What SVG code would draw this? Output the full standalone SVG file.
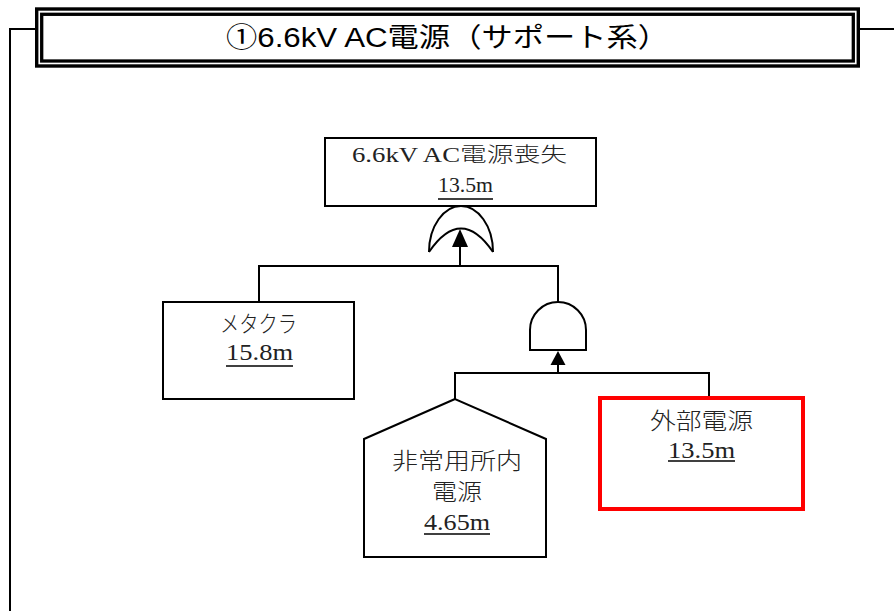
<svg xmlns="http://www.w3.org/2000/svg" width="894" height="611" viewBox="0 0 894 611">
<style>
.ln{fill:none;stroke:#000;stroke-width:2}
.box{fill:#fff;stroke:#000;stroke-width:2}
.t{font-family:"Liberation Serif","Noto Sans CJK JP",serif;font-size:23px;font-weight:300;fill:#222;text-anchor:middle}
.ts{font-size:20px}
.ul{stroke:#000;stroke-width:1.5}
.title{font-family:"Liberation Sans","Noto Sans CJK JP",sans-serif;font-size:27px;fill:#000;text-anchor:middle}
</style>
<rect width="894" height="611" fill="#fff"/>
<g id="frame">
<path class="ln" d="M36,29 H10 V611"/>
<path class="ln" d="M858,29 H894"/>
<rect x="36.7" y="9" width="821.6" height="57" fill="#fff" stroke="#000" stroke-width="3.4"/>
<rect x="41.7" y="14.3" width="811.6" height="46.7" fill="none" stroke="#000" stroke-width="3.3"/>
<text class="title" x="447.5" y="47" textLength="443" lengthAdjust="spacingAndGlyphs">①6.6kV AC電源（サポート系）</text>
</g>
<g id="connectors">
<path class="ln" d="M259,302 V266 H558 V302"/>
<path class="ln" d="M460,266 V246"/>
<polygon points="460,229 452,247 468,247" fill="#000"/>
<path class="ln" d="M455,399 V373 H709 V396"/>
<path class="ln" d="M558,373 V364"/>
<polygon points="558,351 550.5,365 565.5,365" fill="#000"/>
</g>
<g id="top-event">
<rect class="box" x="325" y="138" width="271" height="68"/>
<text class="t ts" x="459.5" y="162" textLength="215" lengthAdjust="spacingAndGlyphs">6.6kV AC電源喪失</text>
<text class="t ts" x="465.5" y="192" textLength="55" lengthAdjust="spacingAndGlyphs">13.5m</text>
<line class="ul" x1="438" y1="199" x2="493" y2="199"/>
</g>
<g id="or-gate">
<path class="ln" d="M429,252 C429,226 444,206 461,206 C478,206 493,226 493,252"/>
<path class="ln" d="M429,252 Q461,205 493,252"/>
</g>
<g id="and-gate">
<path class="ln" d="M530,350 V330 A28,28 0 0 1 586,330 V350 Z"/>
</g>
<g id="metacla">
<rect class="box" x="163" y="302" width="191" height="97"/>
<text class="t" x="258.5" y="332" textLength="77" lengthAdjust="spacingAndGlyphs">メタクラ</text>
<text class="t" x="259.5" y="360" textLength="67" lengthAdjust="spacingAndGlyphs">15.8m</text>
<line class="ul" x1="226" y1="366" x2="293" y2="366"/>
</g>
<g id="emergency-power">
<polygon class="box" points="455,399 364,439 364,557 546,557 546,439"/>
<text class="t" x="457" y="469" textLength="130" lengthAdjust="spacingAndGlyphs">非常用所内</text>
<text class="t" x="457" y="500" textLength="50" lengthAdjust="spacingAndGlyphs">電源</text>
<text class="t" x="457" y="530" textLength="66" lengthAdjust="spacingAndGlyphs">4.65m</text>
<line class="ul" x1="424" y1="534" x2="490" y2="534"/>
</g>
<g id="offsite-power">
<rect x="600" y="398" width="203" height="111" fill="#fff" stroke="#f00" stroke-width="4"/>
<text class="t" x="701.5" y="429" textLength="103" lengthAdjust="spacingAndGlyphs">外部電源</text>
<text class="t" x="701.5" y="458" textLength="67" lengthAdjust="spacingAndGlyphs">13.5m</text>
<line class="ul" x1="668" y1="461" x2="735" y2="461"/>
</g>
</svg>
